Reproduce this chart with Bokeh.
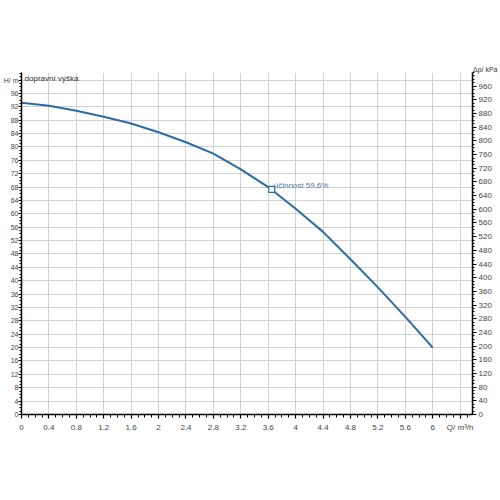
from bokeh.plotting import figure
from bokeh.models import Range1d, LinearAxis, FixedTicker, Label, Title
from bokeh.embed import file_html
from bokeh.resources import INLINE

# Pump curve: flow Q (m³/h) vs head H (m)
Q = [0.0, 0.4, 0.8, 1.2, 1.6, 2.0, 2.4, 2.8, 3.2, 3.6, 4.0, 4.4, 4.8, 5.2, 5.6, 6.0]
H = [93.2, 92.3, 90.8, 89.0, 87.0, 84.4, 81.4, 78.0, 73.3, 68.0, 61.5, 54.6, 46.4, 38.0, 29.2, 20.0]

# Best efficiency point
eff_Q = [3.65]
eff_H = [67.3]
eff_text = "účinnost 59,6%"

KPA_PER_M = 9.78
Y_MAX_M = 102.25
X_MAX = 6.58

x_ticks = [0, 0.4, 0.8, 1.2, 1.6, 2, 2.4, 2.8, 3.2, 3.6, 4, 4.4, 4.8, 5.2, 5.6, 6, 6.4]
x_labels = {6.4: "Q/ m³/h"}
x_minor = [round(i * 0.1, 1) for i in range(0, 66)]
y_ticks = list(range(0, 101, 4))
y_labels = {100: "H/ m"}
y_minor = list(range(0, 103))
kpa_ticks = list(range(0, 961, 40))
kpa_minor = list(range(0, 1001, 10))
kpa_title = "Δp/ kPa"

FONT = "Liberation Sans"
LINE = "#2d6ba5"

p = figure(width=500, height=500, output_backend="svg", toolbar_location=None,
           x_range=Range1d(0, X_MAX), y_range=Range1d(0, Y_MAX_M),
           min_border_left=21, min_border_right=28, min_border_top=72, min_border_bottom=86)
p.outline_line_color = None
p.background_fill_color = "white"
p.extra_y_ranges = {"kpa": Range1d(0, Y_MAX_M * KPA_PER_M)}

def style_axis(ax, major_out=4, minor_out=2):
    ax.axis_line_color = "black"
    ax.axis_line_width = 1.5
    ax.major_tick_line_color = "black"
    ax.major_tick_line_width = 1.2
    ax.minor_tick_line_color = "black"
    ax.minor_tick_line_width = 1
    ax.major_tick_out = major_out
    ax.major_tick_in = 0
    ax.minor_tick_out = minor_out
    ax.minor_tick_in = 0
    ax.major_label_text_font = FONT
    ax.major_label_text_font_size = "8px"
    ax.major_label_text_color = "#444444"
    ax.major_label_standoff = 2

xa = p.xaxis[0]
xa.ticker = FixedTicker(ticks=x_ticks, minor_ticks=x_minor)
xa.major_label_overrides = x_labels
style_axis(xa, 4, 3)
xa.major_label_standoff = 4

ya = p.yaxis[0]
ya.ticker = FixedTicker(ticks=y_ticks, minor_ticks=y_minor)
ya.major_label_overrides = y_labels
style_axis(ya, 3, 2)
ya.major_label_text_font_size = "7px"
ya.major_label_standoff = 0

ra = LinearAxis(y_range_name="kpa")
ra.ticker = FixedTicker(ticks=kpa_ticks, minor_ticks=kpa_minor)
style_axis(ra, 4, 2)
p.add_layout(ra, "right")

p.xgrid.ticker = FixedTicker(ticks=x_ticks)
p.ygrid.ticker = FixedTicker(ticks=y_ticks)
for g in (p.xgrid[0], p.ygrid[0]):
    g.grid_line_color = "#d2d2d2"
    g.grid_line_width = 1

p.line(Q, H, line_color=LINE, line_width=2, line_join="round")
p.scatter(eff_Q, eff_H, marker="square", size=6, line_color=LINE, fill_color="white", line_width=1.2)

p.add_layout(Label(x=eff_Q[0] + 0.03, y=eff_H[0] + 1.2, text=eff_text, text_font=FONT,
                   text_font_size="8px", text_color="#4a78a8", text_baseline="middle"))
p.add_layout(Label(x=0.045, y=100.5, text="dopravní výška", text_font=FONT,
                   text_font_size="8px", text_color="#333333", text_baseline="middle"))
p.add_layout(Title(text=kpa_title, align="right", offset=-25, standoff=0, text_font=FONT,
                   text_font_size="7px", text_font_style="normal", text_color="#333333"), "above")

open("out.html", "w").write(file_html(p, INLINE))
